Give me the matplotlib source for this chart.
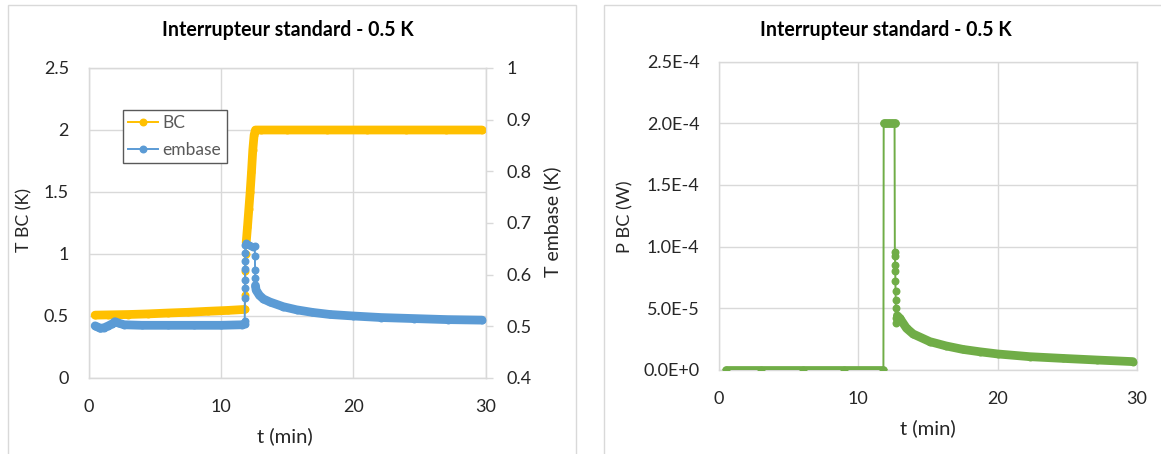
import numpy as np
import matplotlib
matplotlib.use("Agg")
import matplotlib.pyplot as plt
from matplotlib.ticker import FuncFormatter, MultipleLocator
from matplotlib.patches import Rectangle
from matplotlib.lines import Line2D

plt.rcParams['font.family'] = ['Lato', 'DejaVu Sans']

# ---------------- data ----------------
title = "Interrupteur standard - 0.5 K"
xlabel = "t (min)"
ylabel_bc = "T BC (K)"
ylabel_emb = "T embase (K)"
ylabel_p = "P BC (W)"
legend_labels = ["BC", "embase"]

t_bc = [0.5, 1.5, 3.0, 4.5, 6.0, 7.5, 9.0, 10.5, 11.8, 11.82, 11.84, 11.86,
        11.9, 12.0, 12.1, 12.2, 12.3, 12.4, 12.5, 12.6, 13.0, 15.0, 18.0,
        21.0, 24.0, 27.0, 29.7]
T_bc = [0.507, 0.509, 0.512, 0.517, 0.524, 0.530, 0.538, 0.545, 0.553, 0.67,
        0.86, 1.0, 1.09, 1.22, 1.36, 1.50, 1.66, 1.84, 1.96, 2.0, 2.0, 2.0,
        2.0, 2.0, 2.0, 2.0, 2.0]

t_emb = [0.5, 0.7, 0.9, 1.2, 1.5, 1.8, 2.0, 2.3, 2.7, 4.0, 6.0, 8.0, 10.0,
         11.6, 11.78, 11.79, 11.80, 11.805, 11.81, 11.815, 11.82, 11.825,
         11.83, 11.9, 12.0, 12.15, 12.3, 12.45, 12.55, 12.56, 12.57, 12.58,
         12.6, 12.65, 12.9, 13.2, 13.7, 14.7, 15.7, 16.9, 18.2, 20.0, 22.1,
         24.6, 27.1, 29.7]
T_emb = [0.501, 0.4985, 0.496, 0.4975, 0.501, 0.505, 0.509, 0.506, 0.503,
         0.502, 0.502, 0.502, 0.502, 0.503, 0.505, 0.511, 0.554, 0.575, 0.590,
         0.611, 0.627, 0.642, 0.658, 0.661, 0.660, 0.658, 0.656, 0.654, 0.655,
         0.637, 0.610, 0.594, 0.579, 0.570, 0.560, 0.553, 0.547, 0.538, 0.532,
         0.527, 0.523, 0.520, 0.517, 0.515, 0.513, 0.512]

t_p = [0.5, 3.0, 6.0, 9.0, 11.8, 11.82, 12.0, 12.2, 12.4, 12.6, 12.62,
       12.63, 12.64, 12.65, 12.66, 12.67, 12.68, 12.69, 12.70, 12.72, 12.8,
       12.98, 13.46, 13.93, 15.13, 16.3, 17.5, 18.7, 20.0, 22.3, 24.7, 27.1,
       29.7]
P_bc = [0.0, 0.0, 0.0, 0.0, 0.0, 2.0e-4, 2.0e-4, 2.0e-4, 2.0e-4, 2.0e-4,
        9.6e-5, 9.2e-5, 8.5e-5, 8.0e-5, 7.2e-5, 6.4e-5, 5.7e-5, 5.0e-5,
        4.2e-5, 3.8e-5, 4.4e-5, 4.19e-5, 3.38e-5, 2.92e-5, 2.30e-5, 1.95e-5,
        1.67e-5, 1.48e-5, 1.30e-5, 1.08e-5, 0.94e-5, 0.81e-5, 0.68e-5]

# ---------------- style ----------------
C_BC = "#FFC000"
C_EMB = "#5B9BD5"
C_P = "#70AD47"
GRID = "#D9D9D9"
TXT = "#262626"
W, H = 1161, 454
MS = 4.7
LW_THIN = 1.4
LW_BAND = 6.3
TICK_FS = 13


def fx(px):
    return px / W


def fy(py):
    return 1 - py / H


def band(ax, t, v, lo, hi, color, z):
    t = np.asarray(t)
    v = np.asarray(v)
    m = (t >= lo) & (t <= hi)
    ax.plot(t[m], v[m], color=color, lw=LW_BAND, solid_capstyle='round',
            solid_joinstyle='round', zorder=z)


def series(ax, t, v, color, z):
    ax.plot(t, v, color=color, lw=LW_THIN, marker='o', ms=MS, mec=color,
            mfc=color, zorder=z)


def style_axes(ax):
    for s in ax.spines.values():
        s.set_color(GRID)
        s.set_linewidth(1.0)
    ax.grid(True, color=GRID, lw=1.0)
    ax.set_axisbelow(True)
    ax.tick_params(axis='y', length=0, colors=TXT, labelsize=TICK_FS, pad=14)
    ax.tick_params(axis='x', length=0, colors=TXT, labelsize=TICK_FS, pad=15)


fig = plt.figure(figsize=(W / 100, H / 100), dpi=100)
renderer = fig.canvas.get_renderer()


def fit(t, target, vertical=False):
    for _ in range(3):
        bb = t.get_window_extent(renderer)
        size = bb.height if vertical else bb.width
        t.set_fontsize(t.get_fontsize() * target / size)
    return t


# chart-area borders
fig.patches.append(Rectangle((fx(8), fy(470)), fx(576 - 8), (470 - 5) / H,
                             transform=fig.transFigure, fill=False,
                             ec=GRID, lw=1.0))
fig.patches.append(Rectangle((fx(604), fy(470)), fx(1175 - 604), (470 - 5) / H,
                             transform=fig.transFigure, fill=False,
                             ec=GRID, lw=1.0))

# ---------------- left chart ----------------
ax1 = fig.add_axes([fx(88.5), fy(378), fx(486 - 88.5), (378 - 68) / H])
style_axes(ax1)
ax1.set_xlim(0, 30)
ax1.set_ylim(0, 2.5)
ax1.xaxis.set_major_locator(MultipleLocator(10))
ax1.yaxis.set_major_locator(MultipleLocator(0.5))
ax1.yaxis.set_major_formatter(FuncFormatter(lambda v, p: f"{v:g}"))

ax2 = ax1.twinx()
ax2.set_ylim(0.4, 1.0)
ax2.yaxis.set_major_locator(MultipleLocator(0.1))
ax2.yaxis.set_major_formatter(FuncFormatter(lambda v, p: f"{v:g}"))
for s in ax2.spines.values():
    s.set_color(GRID)
ax2.tick_params(axis='y', direction='out', length=5, width=1, color=GRID,
                labelcolor=TXT, labelsize=TICK_FS, pad=9.5)

series(ax1, t_bc, T_bc, C_BC, 3)
band(ax1, t_bc, T_bc, 0, 11.8, C_BC, 3)
band(ax1, t_bc, T_bc, 11.9, 30, C_BC, 3)

series(ax2, t_emb, T_emb, C_EMB, 3)
band(ax2, t_emb, T_emb, 0, 11.78, C_EMB, 3)
band(ax2, t_emb, T_emb, 12.6, 30, C_EMB, 3)

handles = [Line2D([], [], color=C_BC, lw=LW_THIN, marker='o', ms=MS),
           Line2D([], [], color=C_EMB, lw=LW_THIN, marker='o', ms=MS)]
leg = ax2.legend(handles, legend_labels, loc='upper left',
                 bbox_to_anchor=(fx(122.7), fy(110)),
                 bbox_transform=fig.transFigure, fontsize=12.5,
                 frameon=True, fancybox=False, framealpha=1,
                 edgecolor="#595959", handlelength=1.75, handletextpad=0.25,
                 borderpad=0.3, labelspacing=0.6, borderaxespad=0)
leg.get_frame().set_linewidth(1.0)
for txt in leg.get_texts():
    txt.set_color("#595959")

t1 = fig.text(fx(288), fy(29.5), title, ha='center', va='center',
              fontsize=14, fontweight='bold', color="#000000")
fit(t1, 250)
xl1 = fig.text(fx(285), fy(436), xlabel, ha='center', va='center',
               fontsize=14, color=TXT)
fit(xl1, 56)
yl1 = fig.text(fx(24), fy(220), ylabel_bc, ha='center', va='center',
               rotation=90, fontsize=14, color=TXT)
fit(yl1, 64, vertical=True)
yl2 = fig.text(fx(552), fy(222), ylabel_emb, ha='center', va='center',
               rotation=90, fontsize=14, color=TXT)
fit(yl2, 110, vertical=True)

# ---------------- right chart ----------------
ax3 = fig.add_axes([fx(719), fy(370), fx(1137 - 719), (370 - 61.5) / H])
style_axes(ax3)
ax3.set_xlim(0, 30)
ax3.set_ylim(0, 2.5e-4)
ax3.xaxis.set_major_locator(MultipleLocator(10))
ax3.yaxis.set_major_locator(MultipleLocator(5e-5))


def sci(v, p):
    if abs(v) < 1e-12:
        return "0.0E+0"
    e = int(np.floor(np.log10(abs(v)) + 1e-9))
    m = v / 10 ** e
    return f"{m:.1f}E{e:+d}"


ax3.yaxis.set_major_formatter(FuncFormatter(sci))

series(ax3, t_p, P_bc, C_P, 3)
band(ax3, t_p, P_bc, 0, 11.8, C_P, 3)
band(ax3, t_p, P_bc, 11.82, 12.6, C_P, 3)
band(ax3, t_p, P_bc, 12.75, 30, C_P, 3)

t2 = fig.text(fx(886), fy(29.5), title, ha='center', va='center',
              fontsize=14, fontweight='bold', color="#000000")
fit(t2, 250)
xl2 = fig.text(fx(928), fy(428), xlabel, ha='center', va='center',
               fontsize=14, color=TXT)
fit(xl2, 56)
yl3 = fig.text(fx(625), fy(217), ylabel_p, ha='center', va='center',
               rotation=90, fontsize=14, color=TXT)
fit(yl3, 73, vertical=True)

fig.savefig("out.png", dpi=100)
